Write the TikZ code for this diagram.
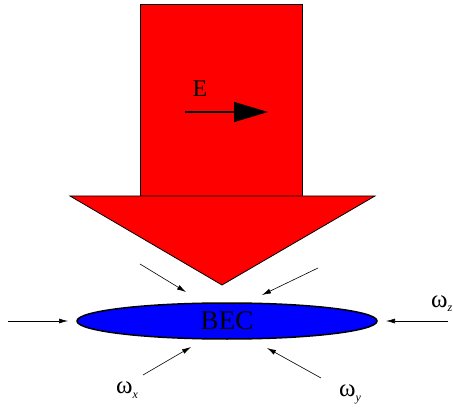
\documentclass[tikz,border=0pt]{standalone}
\usepackage{fontspec}
\setmainfont{Liberation Serif}
\usetikzlibrary{positioning,arrows.meta,shapes.geometric}

\begin{document}
\begin{tikzpicture}[x=1pt,y=-1pt,
    beam/.style={fill=red, draw=black, line width=0.8pt},
    trap/.style={-{Latex[length=9pt,width=5pt]}, line width=0.6pt},
    freqlabel/.style={font=\fontsize{25}{25}\selectfont, inner sep=0pt, anchor=base west}
  ]
  \useasboundingbox (0,0) rectangle (453,409);
  % laser beam
  \draw[beam] (140,4) rectangle (302,196);
  \draw[beam] (70,196) -- (375,196) -- (222,285) -- cycle;
  \node[font=\fontsize{24}{24}\selectfont, inner sep=0pt] (efield) at (200,89) {E};
  \coordinate (estart) at (185,112);
  \coordinate (eend) at (268,112);
  \draw[-{Triangle[length=34pt,width=20pt]}, line width=1.6pt] (estart) -- (eend);
  % condensate
  \node[ellipse, fill=blue, draw=black, line width=1.5pt,
        minimum width=300pt, minimum height=36pt, inner sep=0pt,
        font=\fontsize{27}{27}\selectfont] (bec) at (227,321) {BEC};
  % trap frequencies
  \newcommand{\sublabel}[1]{\raisebox{-5pt}{\fontsize{12}{12}\selectfont\itshape #1}}
  \node[freqlabel] (wz) at (431,307) {ω\sublabel{z}};
  \node[freqlabel] (wx) at (116,393) {ω\sublabel{x}};
  \node[freqlabel] (wy) at (339,396) {ω\sublabel{y}};
  \coordinate (zl0) at (8,321);   \coordinate (zl1) at (68,321);
  \coordinate (zr0) at (448,321); \coordinate (zr1) at (386,321);
  \coordinate (ul0) at (140,264); \coordinate (ul1) at (186,292);
  \coordinate (ur0) at (318,268); \coordinate (ur1) at (262,295);
  \coordinate (xl0) at (143,375); \coordinate (xl1) at (191,347);
  \coordinate (yr0) at (321,378); \coordinate (yr1) at (267,348);
  \draw[trap] (zl0) -- (zl1);
  \draw[trap] (zr0) -- (zr1);
  \draw[trap] (ul0) -- (ul1);
  \draw[trap] (ur0) -- (ur1);
  \draw[trap] (xl0) -- (xl1);
  \draw[trap] (yr0) -- (yr1);
\end{tikzpicture}
\end{document}
